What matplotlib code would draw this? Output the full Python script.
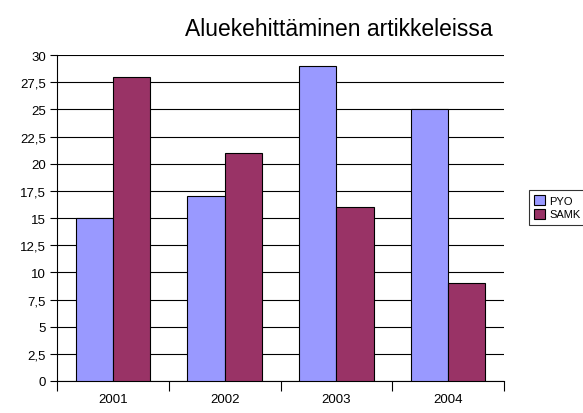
import numpy as np
import matplotlib.pyplot as plt

years = ["2001", "2002", "2003", "2004"]
pyo = [15, 17, 29, 25]
samk = [28, 21, 16, 9]

plt.rcParams['font.family'] = ['Liberation Sans', 'DejaVu Sans']

fig = plt.figure(figsize=(5.83, 4.14), dpi=100)
ax = fig.add_axes([0.0978, 0.0773, 0.7667, 0.7874])

x = np.arange(len(years))
w = 1 / 3
ax.bar(x - w / 2, pyo, w, color="#9999ff", edgecolor="black", linewidth=0.8, label="PYO", zorder=3)
ax.bar(x + w / 2, samk, w, color="#993366", edgecolor="black", linewidth=0.8, label="SAMK", zorder=3)

ax.set_xlim(-0.5, len(years) - 0.5)
ax.set_ylim(0, 30)
yt = np.arange(0, 30.01, 2.5)
ax.set_yticks(yt)
ax.set_yticklabels([("%g" % v).replace(".", ",") for v in yt], fontsize=9.5)
ax.set_xticks(x)
ax.set_xticklabels(years, fontsize=9.5)
ax.set_xticks(np.arange(-0.5, len(years)), minor=True)
ax.tick_params(axis="x", which="major", length=0, pad=9)
ax.tick_params(axis="x", which="minor", length=7, width=0.8, direction="out")
ax.tick_params(axis="y", length=5, width=0.8, pad=3)
ax.grid(axis="y", color="black", linewidth=0.8, zorder=0)
ax.spines["top"].set_visible(False)
ax.spines["right"].set_visible(False)
ax.spines["left"].set_linewidth(0.8)
ax.spines["bottom"].set_linewidth(0.8)

fig.text(0.581, 0.928, "Aluekehittäminen artikkeleissa", fontsize=16.5, ha="center", va="center")

leg = fig.legend(loc="center left", bbox_to_anchor=(0.897, 0.497), fontsize=8,
                 frameon=True, fancybox=False, handlelength=1.0, handleheight=1.0,
                 handletextpad=0.4, borderpad=0.5, labelspacing=0.25)
leg.get_frame().set_edgecolor("black")
leg.get_frame().set_linewidth(0.8)

fig.savefig("out.png", dpi=100)
